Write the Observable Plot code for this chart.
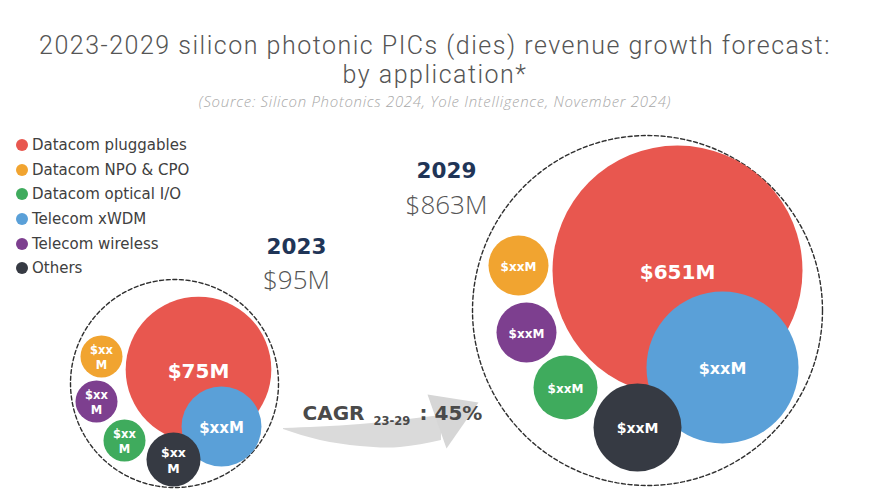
<!DOCTYPE html>
<html><head><meta charset="utf-8">
<script src="https://cdn.jsdelivr.net/npm/d3@7"></script>
<script src="https://cdn.jsdelivr.net/npm/@observablehq/plot@0.6"></script>
<style>
body{margin:0;background:#fff;}
#wrap{position:relative;width:870px;height:492px;overflow:hidden;font-family:"Open Sans",sans-serif;}
#head{height:120px;position:relative;text-align:center;color:#555;}
#title{position:absolute;left:0;right:0;top:31px;font-family:Roboto,sans-serif;font-size:25px;font-weight:300;line-height:29px;letter-spacing:1.5px;white-space:nowrap;}
#src{position:absolute;left:0;right:0;top:93px;font-size:15px;font-style:italic;font-weight:300;color:#a8a8a8;line-height:17px;letter-spacing:0.7px;}
#legend{position:absolute;left:16px;top:133px;font-family:"DejaVu Sans",sans-serif;}
.li{display:flex;align-items:center;height:24.6px;font-size:15px;color:#404040;}
.sw{width:12px;height:12px;border-radius:50%;margin-right:4px;}
#chart{position:absolute;left:0;top:120px;}
</style></head>
<body><div id="wrap">
<div id="head"><div id="title"></div><div id="src"></div></div>
<div id="chart"></div>
<div id="legend"></div>
</div>
<script>
// ---- data ----
const titleLines = ["2023-2029 silicon photonic PICs (dies) revenue growth forecast:", "by application*"];
const sourceNote = "(Source: Silicon Photonics 2024, Yole Intelligence, November 2024)";
const categories = ["Datacom pluggables","Datacom NPO & CPO","Datacom optical I/O","Telecom xWDM","Telecom wireless","Others"];
const years = ["2023","2029"];
const totalLabels = ["$95M","$863M"];
// revenue in $M; only pluggables is printed, the rest estimated from bubble areas
const values2023 = [75, 0.52, 0.52, 6.8, 0.52, 1.42];
const values2029 = [651, 2.16, 2.8, 89, 2.16, 10.0];
const labels2023 = ["$75M","$xx\nM","$xx\nM","$xxM","$xx\nM","$xx\nM"];
const labels2029 = ["$651M","$xxM","$xxM","$xxM","$xxM","$xxM"];
const cagrLabel = "CAGR", cagrSub = "23-29", cagrValue = ": 45%";

// ---- styles & layout ----
const colors = ["#e8574f","#f1a430","#3fab5d","#5aa0d8","#7d3f8f","#363a43"];
const groupCenter = [[174,383],[647,310]];
const groupRadius = [104,175];
const offsets = [
  [[24,-14],[-73,-27],[-50,57],[47,43],[-78,18],[-1,76]],
  [[30,-40],[-129,-45],[-82,77],[75,57],[-121,22],[-10,117]]
];
const labelSize = [[20,11.5,11.5,15,11.5,12.5],[20,12,12,16,12,14]];
const yearPos = [[296,247,280],[446,171,205]];

const tEl = document.getElementById("title");
titleLines.forEach((l,i)=>{ if(i) tEl.appendChild(document.createElement("br")); tEl.appendChild(document.createTextNode(l)); });
document.getElementById("src").textContent = sourceNote;
const lg = document.getElementById("legend");
categories.forEach((c,i)=>{
  const d=document.createElement("div");d.className="li";
  d.innerHTML=`<span class="sw" style="background:${colors[i]}"></span>`;
  d.appendChild(document.createTextNode(c));lg.appendChild(d);
});

const vals=[values2023,values2029], labs=[labels2023,labels2029];
const rows=[];
years.forEach((yr,yi)=>categories.forEach((c,ci)=>rows.push({
  year:yr, cat:c, value:vals[yi][ci], label:labs[yi][ci], size:labelSize[yi][ci],
  x:groupCenter[yi][0]+offsets[yi][ci][0], y:groupCenter[yi][1]+offsets[yi][ci][1]
})));
const encl=[];
years.forEach((yr,yi)=>d3.range(0,361,2).forEach(a=>{
  const t=a*Math.PI/180;
  encl.push({year:yr,x:groupCenter[yi][0]+groupRadius[yi]*Math.cos(t),y:groupCenter[yi][1]+groupRadius[yi]*Math.sin(t)});
}));
const yearRows=years.map((yr,i)=>({yr,tot:totalLabels[i],x:yearPos[i][0],y1:yearPos[i][1],y2:yearPos[i][2]}));
const body=[{x:283,y1:428,y2:429},{x:320,y1:426.5,y2:440},{x:360,y1:424,y2:446},{x:400,y1:420,y2:447},{x:441,y1:415,y2:440}];
const head=[{x:427,y:394},{x:478,y:402},{x:446,y:448}];
const font='"DejaVu Sans",sans-serif';

const plot = Plot.plot({
  width:870, height:372, margin:0,
  x:{domain:[0,870],range:[0,870],axis:null},
  y:{domain:[120,492],range:[0,372],axis:null},
  r:{type:"pow",exponent:0.25,domain:[0,651],range:[0,125]},
  color:{domain:categories,range:colors},
  style:{fontFamily:font,background:"transparent"},
  marks:[
    Plot.areaY(body,{x:"x",y1:"y1",y2:"y2",curve:"natural",fill:"#dadada"}),
    Plot.line(head,{x:"x",y:"y",fill:"#d6d6d6",stroke:"none",curve:"linear-closed"}),
    Plot.line(encl,{x:"x",y:"y",z:"year",stroke:"#2e2e2e",strokeWidth:1.4,strokeDasharray:"4,2.6"}),
    Plot.dot(rows,{x:"x",y:"y",r:"value",fill:"cat",stroke:"none"}),
    Plot.text(rows,{x:"x",y:"y",text:"label",fill:"white",fontWeight:700,fontSize:"size",lineHeight:1.3}),
    Plot.text(yearRows,{x:"x",y:"y1",text:"yr",fill:"#1f3557",fontWeight:700,fontSize:21.5}),
    Plot.text(yearRows,{x:"x",y:"y2",text:"tot",fill:"#555",fontFamily:'"Open Sans",sans-serif',fontWeight:300,fontSize:26}),
    Plot.text([cagrLabel],{x:302,y:413,text:d=>d,textAnchor:"start",fill:"#4a4a4a",fontWeight:600,fontSize:20}),
    Plot.text([cagrSub],{x:373,y:421,text:d=>d,textAnchor:"start",fill:"#4a4a4a",fontWeight:600,fontSize:11.5}),
    Plot.text([cagrValue],{x:419,y:413,text:d=>d,textAnchor:"start",fill:"#4a4a4a",fontWeight:600,fontSize:20})
  ]
});
document.getElementById("chart").appendChild(plot);
</script>
</body></html>
